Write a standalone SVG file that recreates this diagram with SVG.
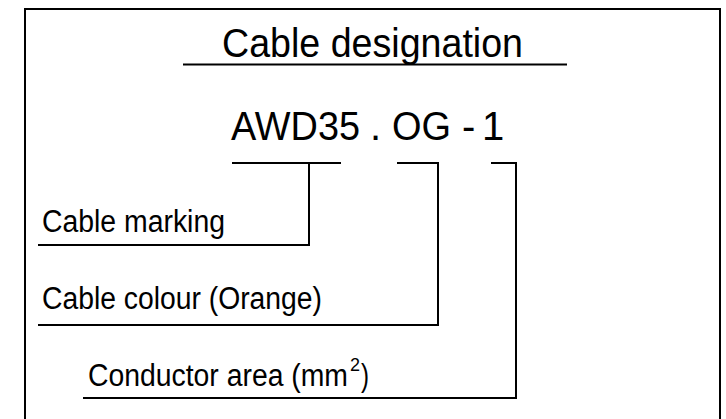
<svg xmlns="http://www.w3.org/2000/svg" width="726" height="419" viewBox="0 0 726 419">
<style>
.t{font-family:"Liberation Sans",Arial,sans-serif;fill:#000}
.big{font-size:40px}
.lab{font-size:31px}
.ln{fill:none;stroke:#000;stroke-width:2}
</style>
<rect width="726" height="419" fill="#fff"/>
<g id="frame"><path class="ln" d="M25,420 V9 H720 V420"/></g>
<g id="title">
<text class="t big" x="222" y="57" textLength="301" lengthAdjust="spacingAndGlyphs">Cable designation</text>
<path class="ln" d="M183,64.5 H567"/>
</g>
<g id="designation">
<text class="t big" x="231" y="140" textLength="129" lengthAdjust="spacingAndGlyphs">AWD35</text>
<text class="t big" x="370" y="140">.</text>
<text class="t big" x="392" y="140" textLength="59" lengthAdjust="spacingAndGlyphs">OG</text>
<text class="t big" x="462" y="140">-</text>
<text class="t big" x="482" y="140">1</text>
</g>
<g id="marking"><text class="t lab" x="42" y="232" textLength="183" lengthAdjust="spacingAndGlyphs">Cable marking</text></g>
<g id="colour"><text class="t lab" x="42" y="309" textLength="280" lengthAdjust="spacingAndGlyphs">Cable colour (Orange)</text></g>
<g id="area">
<text class="t lab" x="88" y="386" textLength="260" lengthAdjust="spacingAndGlyphs">Conductor area (mm</text>
<text class="t" x="350" y="371" font-size="18">2</text>
<text class="t lab" x="361" y="386" textLength="8" lengthAdjust="spacingAndGlyphs">)</text>
</g>
<g id="connectors">
<path class="ln" d="M232,163 H341 M309,163 V245 H38"/>
<path class="ln" d="M397,163 H438 V325 H38"/>
<path class="ln" d="M491,163 H516 V398 H83"/>
</g>
</svg>
